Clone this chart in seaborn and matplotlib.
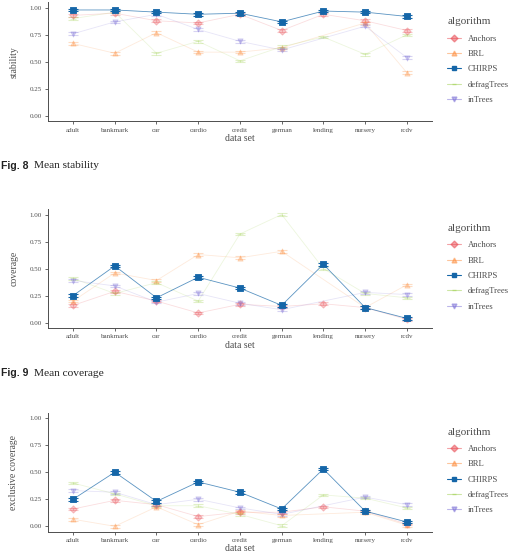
import numpy as np
import pandas as pd
import matplotlib
matplotlib.use("Agg")
import matplotlib.pyplot as plt
from matplotlib.lines import Line2D
import seaborn as sns

datasets = ["adult", "bankmark", "car", "cardio", "credit", "german", "lending", "nursery", "rcdv"]
algorithms = ["Anchors", "BRL", "CHIRPS", "defragTrees", "inTrees"]
nan = np.nan

# mean stability
stab_anchors = [0.93, 0.95, 0.88, 0.86, 0.94, 0.79, 0.94, 0.88, 0.79]
stab_brl = [0.67, 0.58, 0.77, 0.59, 0.59, 0.63, nan, 0.86, 0.40]
stab_chirps = [0.98, 0.98, 0.96, 0.94, 0.95, 0.87, 0.97, 0.96, 0.92]
stab_defrag = [0.90, 0.96, 0.58, 0.69, 0.51, 0.64, 0.73, 0.57, 0.75]
stab_intrees = [0.76, 0.87, 0.94, 0.80, 0.69, 0.61, nan, 0.83, 0.54]

# mean coverage
cov_anchors = [0.16, 0.29, 0.20, 0.09, 0.17, 0.15, 0.175, 0.14, 0.03]
cov_brl = [0.20, 0.46, 0.39, 0.63, 0.60, 0.66, nan, 0.14, 0.35]
cov_chirps = [0.25, 0.525, 0.23, 0.42, 0.32, 0.16, 0.54, 0.14, 0.04]
cov_defrag = [0.41, 0.27, 0.37, 0.20, 0.82, 1.00, 0.50, 0.27, 0.23]
cov_intrees = [0.39, 0.34, 0.19, 0.27, 0.18, 0.12, nan, 0.28, 0.26]

# mean exclusive coverage
exc_anchors = [0.16, 0.24, 0.20, 0.09, 0.13, 0.13, 0.18, 0.14, 0.02]
exc_brl = [0.065, 0.00, 0.18, 0.015, 0.14, 0.10, nan, 0.13, 0.01]
exc_chirps = [0.25, 0.50, 0.23, 0.41, 0.315, 0.16, 0.53, 0.14, 0.04]
exc_defrag = [0.40, 0.30, 0.19, 0.19, 0.11, 0.005, 0.29, 0.26, 0.17]
exc_intrees = [0.33, 0.315, 0.20, 0.25, 0.17, 0.11, nan, 0.27, 0.20]

err = 0.012

colors = {"Anchors": "#e8474f", "BRL": "#fd8d3c", "CHIRPS": "#1566a8",
          "defragTrees": "#9ccf4a", "inTrees": "#7b6fd6"}
markers = {"Anchors": "D", "BRL": "^", "CHIRPS": "s", "defragTrees": "_", "inTrees": "v"}
alphas = {"Anchors": 0.3, "BRL": 0.3, "CHIRPS": 1.0, "defragTrees": 0.3, "inTrees": 0.3}


def make_df(vals):
    rows = []
    for alg, v in zip(algorithms, vals):
        for d, y in zip(datasets, v):
            rows.append({"data set": d, "algorithm": alg, "value": y})
    return pd.DataFrame(rows).dropna()


panels = [
    ("stability", make_df([stab_anchors, stab_brl, stab_chirps, stab_defrag, stab_intrees])),
    ("coverage", make_df([cov_anchors, cov_brl, cov_chirps, cov_defrag, cov_intrees])),
    ("exclusive coverage", make_df([exc_anchors, exc_brl, exc_chirps, exc_defrag, exc_intrees])),
]

sns.set_theme(style="ticks")
plt.rcParams["font.family"] = ["Liberation Serif", "DejaVu Serif"]

fig = plt.figure(figsize=(5.18, 5.56), dpi=100)
bottoms = [0.7817, 0.4099, 0.0437]
grey = "#4d4d4d"

for (label, df), b in zip(panels, bottoms):
    ax = fig.add_axes([0.0927, b, 0.741, 0.214])
    order = ["Anchors", "BRL", "defragTrees", "inTrees", "CHIRPS"]
    for alg in order:
        sub = df[df["algorithm"] == alg]
        xs = [datasets.index(d) for d in sub["data set"]]
        sns.lineplot(x=xs, y=sub["value"].values, color=colors[alg], ax=ax,
                     sort=False, linewidth=0.6,
                     alpha=0.7 if alg == "CHIRPS" else 0.18, legend=False)
        ax.errorbar(xs, sub["value"], yerr=err, fmt="none", ecolor=colors[alg],
                    alpha=alphas[alg], capsize=3.5, elinewidth=0.6, capthick=0.8)
        ax.scatter(xs, sub["value"], marker=markers[alg], s=14, color=colors[alg],
                   alpha=alphas[alg], linewidths=0.6, zorder=3)
    ax.set_xlim(-0.6, 8.6)
    ax.set_ylim(-0.05, 1.05)
    ax.set_yticks([0, 0.25, 0.5, 0.75, 1.0])
    ax.set_yticklabels(["0.00", "0.25", "0.50", "0.75", "1.00"])
    ax.set_xticks(range(len(datasets)))
    ax.set_xticklabels(datasets)
    ax.tick_params(labelsize=5, colors=grey, length=2.5, width=0.6, labelcolor=grey, pad=2)
    for s in ["left", "bottom"]:
        ax.spines[s].set_color(grey)
        ax.spines[s].set_linewidth(0.7)
    sns.despine(ax=ax)
    ax.set_xlabel("data set", fontsize=7, color=grey, labelpad=1)
    ax.set_ylabel(label, fontsize=7, color=grey, labelpad=8)

    handles = [Line2D([0], [0], color=colors[a], marker=markers[a], markersize=3.5,
                      linewidth=0.8, alpha=1.0 if a == "CHIRPS" else 0.5)
               for a in algorithms]
    leg = ax.legend(handles, algorithms, title="algorithm", loc="upper left",
                    bbox_to_anchor=(1.02, 0.94), frameon=False, fontsize=6.2,
                    title_fontsize=8, handlelength=1.6, labelspacing=0.85,
                    handletextpad=0.8)
    leg._legend_box.align = "left"
    leg._legend_box.sep = 6
    for t in leg.get_texts():
        t.set_color(grey)
    leg.get_title().set_color(grey)

captions = [("Fig. 8", "Mean stability", 1 - 166 / 556), ("Fig. 9", "Mean coverage", 1 - 373 / 556)]
for num, txt, y in captions:
    fig.text(0.002, y, num, fontsize=7.5, fontweight="bold", family=["Liberation Sans", "DejaVu Sans"],
             va="center", color="#222222")
    fig.text(0.066, y, txt, fontsize=8.2, va="center", color="#222222")

fig.savefig("out.png", dpi=100)
